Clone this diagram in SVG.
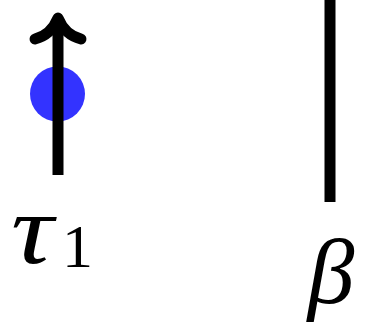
<svg xmlns="http://www.w3.org/2000/svg" width="368" height="322" viewBox="0 0 368 322">
<style>
.ln{stroke:#000;stroke-width:11;fill:none}
.lbl{font-family:"Liberation Serif","DejaVu Serif",serif;fill:#000}
.it{font-style:italic}
</style>
<rect width="368" height="322" fill="#fff"/>
<g id="particle">
<circle cx="57.5" cy="94" r="27.5" fill="#3333ff"/>
</g>
<g id="connectors">
<line class="ln" x1="58" y1="175" x2="58" y2="18"/>
<path class="ln" d="M35,39 Q51,35 58,18 Q65,35 81,39" stroke-linecap="round" stroke-linejoin="round" stroke-width="10"/>
<line class="ln" x1="330" y1="0" x2="330" y2="202"/>
</g>
<g id="label-tau">
<text class="lbl it" transform="translate(11,263) scale(1.18,1)" x="0" y="0" font-size="100">τ</text>
<text class="lbl" x="62" y="267" font-size="62">1</text>
</g>
<g id="label-beta">
<text class="lbl it" x="331" y="303" font-size="94" text-anchor="middle">β</text>
</g>
</svg>
